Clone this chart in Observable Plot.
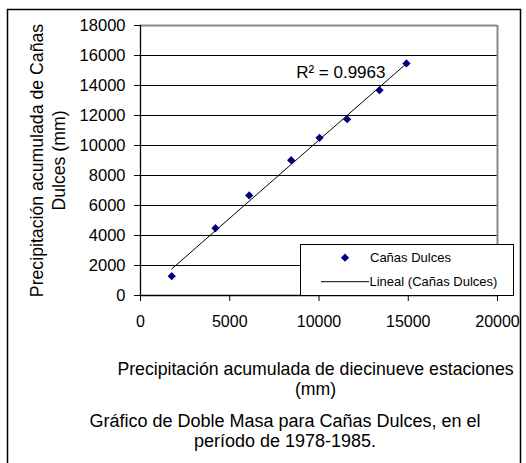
<!DOCTYPE html>
<html>
<head>
<meta charset="utf-8">
<script src="https://cdn.jsdelivr.net/npm/d3@7"></script>
<script src="https://cdn.jsdelivr.net/npm/@observablehq/plot@0.6"></script>
<style>
  html, body { margin: 0; padding: 0; background: #fff; }
  svg { font-family: "Liberation Sans", Arial, sans-serif; }
</style>
</head>
<body>
<div id="chart"></div>
<script>
// Data
const xAccum = [1750, 4200, 6090, 8440, 10030, 11580, 13390, 14900];
const yAccum = [1290, 4490, 6670, 9020, 10510, 11750, 13690, 15470];
const seriesName = "Cañas Dulces";
const trendName = "Lineal (Cañas Dulces)";
const r2Text = "R² = 0.9963";
const xTicks = [0, 5000, 10000, 15000, 20000];
const yTicks = [0, 2000, 4000, 6000, 8000, 10000, 12000, 14000, 16000, 18000];
const gridY = [2000, 4000, 6000, 8000, 10000, 12000, 14000, 16000];
const xTitle = "Precipitación acumulada de diecinueve estaciones\n(mm)";
const yTitle = "Precipitación acumulada de Cañas\nDulces (mm)";
const caption = "Gráfico de Doble Masa para Cañas Dulces, en el\nperíodo de 1978-1985.";

const data = xAccum.map((x, i) => ({x, y: yAccum[i]}));

const plot = Plot.plot({
  width: 526,
  height: 463,
  marginLeft: 140,
  marginRight: 29,
  marginTop: 25,
  marginBottom: 168,
  style: {fontFamily: "Liberation Sans, Arial, sans-serif", background: "#fff"},
  x: {domain: [0, 20000]},
  y: {domain: [0, 18000]},
  marks: [
    Plot.ruleY(gridY, {stroke: "#000", strokeWidth: 1}),
    Plot.ruleY([18000], {stroke: "#888", strokeWidth: 2}),
    Plot.ruleX([20000], {stroke: "#888", strokeWidth: 2}),
    Plot.ruleX([0], {stroke: "#000", strokeWidth: 1.3}),
    Plot.ruleY([0], {stroke: "#000", strokeWidth: 1.3}),
    Plot.axisY({ticks: yTicks, tickSize: 6, tickPadding: 9, fontSize: 16.5, tickFormat: d => String(d), stroke: "#000", fill: "#000", label: null}),
    Plot.axisX({ticks: xTicks, tickSize: 6, tickPadding: 14, fontSize: 16, tickFormat: d => String(d), stroke: "#000", fill: "#000", label: null}),
    Plot.linearRegressionY(data, {x: "x", y: "y", stroke: "#000", strokeWidth: 1, ci: 0}),
    Plot.dot(data, {x: "x", y: "y", symbol: "diamond2", r: 3.7, fill: "#000080", stroke: "none"}),
    Plot.text([r2Text], {x: 8720, y: 14870, text: d => d, textAnchor: "start", lineAnchor: "middle", fontSize: 17, fill: "#000"}),
    Plot.text([yTitle], {frameAnchor: "left", text: d => d, rotate: -90, textAnchor: "middle", dx: -94, lineAnchor: "middle", lineHeight: 1.25, fontSize: 17.7, fill: "#000"}),
    Plot.text([xTitle], {frameAnchor: "bottom", text: d => d, dx: -3.5, dy: 83, lineAnchor: "middle", lineHeight: 1.15, fontSize: 17.7, fill: "#000"}),
    Plot.text([caption], {frameAnchor: "bottom", text: d => d, dx: -34, dy: 135, lineAnchor: "middle", lineHeight: 1.12, fontSize: 18, fill: "#000"})
  ]
});

const svg = d3.select(plot);

// outer border of the chart (left, top, right; bottom runs past the picture)
svg.append("path")
  .attr("d", "M7.5,463V9.5H520.5V463")
  .attr("fill", "none")
  .attr("stroke", "#000")
  .attr("stroke-width", 1.5);

// legend
const lg = svg.append("g").attr("font-size", 13).attr("fill", "#000").attr("text-anchor", "start");
lg.append("rect").attr("x", 300.5).attr("y", 244.5).attr("width", 213).attr("height", 51)
  .attr("fill", "#fff").attr("stroke", "#000").attr("stroke-width", 1);
lg.append("path").attr("d", d3.symbol(d3.symbolDiamond2, Math.PI * 3.7 * 3.7)())
  .attr("transform", "translate(345,257.7)").attr("fill", "#000080");
lg.append("text").attr("x", 370).attr("y", 257.7).attr("dy", "0.35em").attr("text-anchor", "start").text(seriesName);
lg.append("line").attr("x1", 321).attr("x2", 369).attr("y1", 281.7).attr("y2", 281.7)
  .attr("stroke", "#000").attr("stroke-width", 1);
lg.append("text").attr("x", 369.5).attr("y", 281.7).attr("dy", "0.35em").attr("text-anchor", "start").text(trendName);

document.getElementById("chart").appendChild(plot);
</script>
</body>
</html>
